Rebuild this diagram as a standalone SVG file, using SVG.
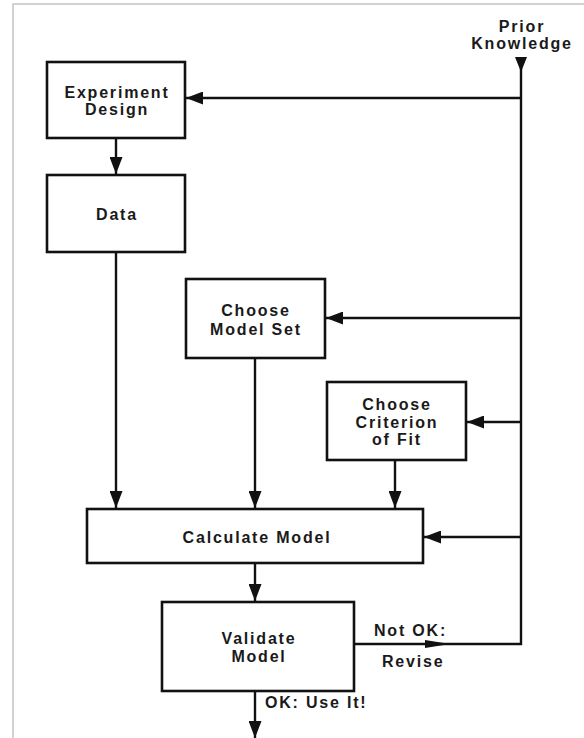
<svg xmlns="http://www.w3.org/2000/svg" width="584" height="738" viewBox="0 0 584 738">
<style>
.box{fill:#fff;stroke:#111;stroke-width:2.6}
.ln{fill:none;stroke:#111;stroke-width:2.4}
.t{font-family:"Liberation Sans",Arial,sans-serif;font-size:16px;font-weight:bold;letter-spacing:1.8px;fill:#1a1a1a;text-anchor:middle}
.tl{font-family:"Liberation Sans",Arial,sans-serif;font-size:16px;font-weight:bold;letter-spacing:1.8px;fill:#1a1a1a}
.frame{fill:none;stroke:#c4c4c4;stroke-width:1.5}
</style>
<defs>
<marker id="ah" markerUnits="userSpaceOnUse" markerWidth="17" markerHeight="13" refX="17" refY="6.5" orient="auto">
<path d="M0,0 L17,6.5 L0,13 z" fill="#111"/>
</marker>
</defs>
<path class="frame" d="M13,738 V4 H584"/>
<g id="connectors">
<path class="ln" d="M521,57 V644 H354"/>
<polygon points="515,57 527,57 521,72" fill="#111"/>
<path class="ln" d="M521,98 H186" marker-end="url(#ah)"/>
<path class="ln" d="M521,318 H326" marker-end="url(#ah)"/>
<path class="ln" d="M521,422 H467" marker-end="url(#ah)"/>
<path class="ln" d="M521,537 H424" marker-end="url(#ah)"/>
<path class="ln" d="M116,138 V174" marker-end="url(#ah)"/>
<path class="ln" d="M116,252 V508" marker-end="url(#ah)"/>
<path class="ln" d="M255,358 V508" marker-end="url(#ah)"/>
<path class="ln" d="M395,460 V508" marker-end="url(#ah)"/>
<path class="ln" d="M255,563 V601" marker-end="url(#ah)"/>
<path class="ln" d="M255,691 V738" marker-end="url(#ah)"/>
<polygon points="425,640 450,644 425,648" fill="#111"/>
<text class="tl" x="374" y="636">Not OK:</text>
<text class="tl" x="382" y="667">Revise</text>
<text class="tl" x="265" y="708">OK: Use It!</text>
</g>
<g id="prior">
<text class="t" x="522" y="32">Prior</text>
<text class="t" x="522" y="49">Knowledge</text>
</g>
<g id="experiment-design">
<rect class="box" x="47" y="62" width="138" height="76"/>
<text class="t" x="117" y="98">Experiment</text>
<text class="t" x="117" y="115">Design</text>
</g>
<g id="data">
<rect class="box" x="47" y="175" width="138" height="77"/>
<text class="t" x="117" y="220">Data</text>
</g>
<g id="choose-model-set">
<rect class="box" x="186" y="279" width="139" height="79"/>
<text class="t" x="256" y="316">Choose</text>
<text class="t" x="256" y="335">Model Set</text>
</g>
<g id="choose-criterion">
<rect class="box" x="327" y="382" width="139" height="78"/>
<text class="t" x="397" y="410">Choose</text>
<text class="t" x="397" y="428">Criterion</text>
<text class="t" x="397" y="445">of Fit</text>
</g>
<g id="calculate-model">
<rect class="box" x="87" y="509" width="336" height="54"/>
<text class="t" x="257" y="543">Calculate Model</text>
</g>
<g id="validate-model">
<rect class="box" x="162" y="602" width="192" height="89"/>
<text class="t" x="259" y="644">Validate</text>
<text class="t" x="259" y="662">Model</text>
</g>
</svg>
